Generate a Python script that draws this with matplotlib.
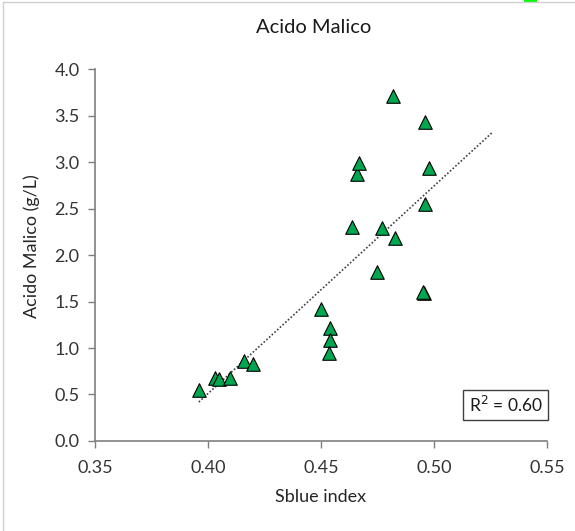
import numpy as np
import matplotlib.pyplot as plt
from matplotlib.patches import Rectangle
from matplotlib.lines import Line2D

plt.rcParams['font.family'] = ['Lato', 'DejaVu Sans']

sblue = [0.396, 0.403, 0.405, 0.410, 0.416, 0.420, 0.450, 0.454, 0.454, 0.4535,
         0.464, 0.466, 0.467, 0.475, 0.477, 0.482, 0.483, 0.496, 0.498, 0.496,
         0.4955, 0.4950]
malico = [0.55, 0.68, 0.67, 0.68, 0.86, 0.83, 1.42, 1.22, 1.09, 0.95,
          2.30, 2.87, 2.99, 1.82, 2.29, 3.71, 2.18, 3.43, 2.94, 2.55,
          1.59, 1.60]
x_ticks = [0.35, 0.40, 0.45, 0.50, 0.55]
y_ticks = [0.0, 0.5, 1.0, 1.5, 2.0, 2.5, 3.0, 3.5, 4.0]

x = np.array(sblue)
y = np.array(malico)
m, b = np.polyfit(x, y, 1)
r2 = np.corrcoef(x, y)[0, 1] ** 2

fig = plt.figure(figsize=(5.75, 5.31), dpi=100)
ax = fig.add_axes([0.165, 0.1695, 0.786, 0.7005])

xl = np.array([x.min(), x.max() + 0.028])
ax.plot(xl, m * xl + b, color='#404040', lw=1.2, ls=(0, (1, 1.2)), zorder=2)
ax.scatter(x, y, marker='^', s=95, color='#00A650', edgecolor='black',
           linewidth=0.8, zorder=3)

ax.set_xlim(0.35, 0.55)
ax.set_ylim(0, 4)
ax.set_xticks(x_ticks)
ax.set_xticklabels([f"{v:.2f}" for v in x_ticks])
ax.set_yticks(y_ticks)
ax.set_yticklabels([f"{v:.1f}" for v in y_ticks])
for s in ['top', 'right']:
    ax.spines[s].set_visible(False)
for s in ['left', 'bottom']:
    ax.spines[s].set_color('#7f7f7f')
    ax.spines[s].set_linewidth(1.2)
ax.tick_params(colors='#7f7f7f', labelcolor='#333333', labelsize=13, length=5, width=1)
ax.tick_params(axis='x', pad=9)
ax.tick_params(axis='y', pad=6)

fig.text(0.545, 0.949, 'Acido Malico', fontsize=14.5, color='#1a1a1a',
         ha='center', va='center')
ax.set_xlabel('Sblue index', fontsize=13, color='#262626')
ax.xaxis.set_label_coords(0.5, -0.130)
ax.set_ylabel('Acido Malico (g/L)', fontsize=13, color='#262626')
ax.yaxis.set_label_coords(-0.121, 0.524)

ax.text(0.909, 0.097, f'R$^2$ = {r2:.2f}', transform=ax.transAxes, fontsize=12.5,
        ha='center', va='center', color='#1a1a1a',
        bbox=dict(boxstyle='square,pad=0.3', fc='white', ec='#404040', lw=1))

# frame edges and selection handle of the original screenshot
fig.add_artist(Line2D([0.005, 0.005], [0, 0.997], transform=fig.transFigure, color='#d0d0d0', lw=1))
fig.add_artist(Line2D([0.005, 1], [0.997, 0.997], transform=fig.transFigure, color='#d0d0d0', lw=1))
fig.add_artist(Rectangle((0.911, 0.994), 0.023, 0.006, transform=fig.transFigure,
                         color='#00ff00', lw=0))

fig.savefig('out.png', dpi=100)
